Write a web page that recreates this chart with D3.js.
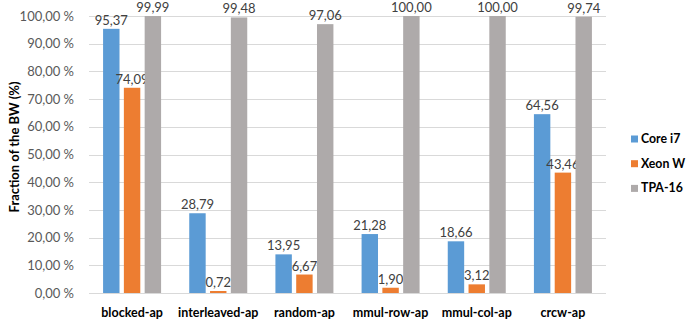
<!DOCTYPE html>
<html>
<head>
<meta charset="utf-8">
<script src="https://cdn.jsdelivr.net/npm/d3@7"></script>
<style>
  body { margin: 0; background: #fff; }
  svg { font-family: Lato, "Open Sans", sans-serif; }
</style>
</head>
<body>
<svg id="chart" width="686" height="323"></svg>
<script>
// chart data
var categories = ["blocked-ap", "interleaved-ap", "random-ap", "mmul-row-ap", "mmul-col-ap", "crcw-ap"];
var seriesNames = ["Core i7", "Xeon W", "TPA-16"];
var coreI7 = [95.37, 28.79, 13.95, 21.28, 18.66, 64.56];
var xeonW = [74.09, 0.72, 6.67, 1.90, 3.12, 43.46];
var tpa16 = [99.99, 99.48, 97.06, 100.00, 100.00, 99.74];
var yTicks = [0, 10, 20, 30, 40, 50, 60, 70, 80, 90, 100];
var colours = ["#5B9BD5", "#ED7D31", "#AEAAAA"];

var svg = d3.select("#chart");
var plotLeft = 89, plotRight = 606, plotTop = 16, plotBottom = 293;

var x = d3.scaleBand()
          .domain(categories)
          .range([plotLeft, plotRight]);

var xs = d3.scaleBand()
           .domain(seriesNames)
           .range([0, 58])
           .paddingInner(0.21);

var y = d3.scaleLinear()
          .domain([0, 100])
          .range([plotBottom, plotTop]);

var fmt = function (v) { return d3.format(".2f")(v).replace(".", ","); };

// gridlines
svg.append("g")
   .selectAll("line")
   .data(yTicks)
   .enter()
   .append("line")
   .attr("x1", plotLeft)
   .attr("x2", plotRight)
   .attr("y1", function (d) { return Math.round(y(d)) + 0.5; })
   .attr("y2", function (d) { return Math.round(y(d)) + 0.5; })
   .style("stroke", "#D9D9D9")
   .style("stroke-width", 1);

// y axis
var yAxis = svg.append("g")
   .attr("transform", "translate(" + (plotLeft - 12) + ",0)")
   .call(d3.axisLeft(y).tickValues(yTicks).tickSize(0)
           .tickFormat(function (d) { return fmt(d) + " %"; }));
yAxis.select(".domain").remove();
yAxis.selectAll("text")
     .style("font-size", "13px")
     .style("font-family", "Lato, sans-serif")
     .style("fill", "#595959");

// x axis
var xAxis = svg.append("g")
   .attr("transform", "translate(0," + (plotBottom + 12) + ")")
   .call(d3.axisBottom(x).tickSize(0));
xAxis.select(".domain").remove();
xAxis.selectAll("text")
     .style("font-size", "12.5px")
     .style("font-family", "Lato, sans-serif")
     .style("font-weight", "bold")
     .style("fill", "#000");

// y axis title
svg.append("text")
   .attr("transform", "translate(19,147) rotate(-90)")
   .attr("text-anchor", "middle")
   .style("font-size", "13px")
   .style("font-weight", "bold")
   .text("Fraction of the BW (%)");

var series = [coreI7, xeonW, tpa16];
var groups = svg.append("g");

series.forEach(function (vals, s) {
    var name = seriesNames[s];
    var bars = groups.selectAll(".bar-" + s)
        .data(vals)
        .enter();

    bars.append("rect")
        .attr("class", "bar-" + s)
        .attr("x", function (d, i) { return x(categories[i]) + x.bandwidth() / 2 - 29 + xs(name); })
        .attr("y", function (d) { return y(d); })
        .attr("width", xs.bandwidth())
        .attr("height", function (d) { return plotBottom - y(d); })
        .style("fill", colours[s]);

    bars.append("text")
        .attr("x", function (d, i) { return x(categories[i]) + x.bandwidth() / 2 - 29 + xs(name) + xs.bandwidth() / 2; })
        .attr("y", function (d) { return y(d) - 4; })
        .attr("text-anchor", "middle")
        .style("font-size", "13px")
        .style("fill", "#404040")
        .text(function (d) { return fmt(d); });
});

// legend
var legend = svg.append("g")
   .selectAll("g")
   .data(seriesNames)
   .enter()
   .append("g")
   .attr("transform", function (d, i) { return "translate(631," + (135.5 + i * 24.7) + ")"; });

legend.append("rect")
      .attr("width", 7)
      .attr("height", 7)
      .style("fill", function (d, i) { return colours[i]; });

legend.append("text")
      .attr("x", 10)
      .attr("y", 7.5)
      .style("font-size", "12.3px")
      .style("font-weight", "bold")
      .style("fill", "#000")
      .text(function (d) { return d; });
</script>
</body>
</html>
